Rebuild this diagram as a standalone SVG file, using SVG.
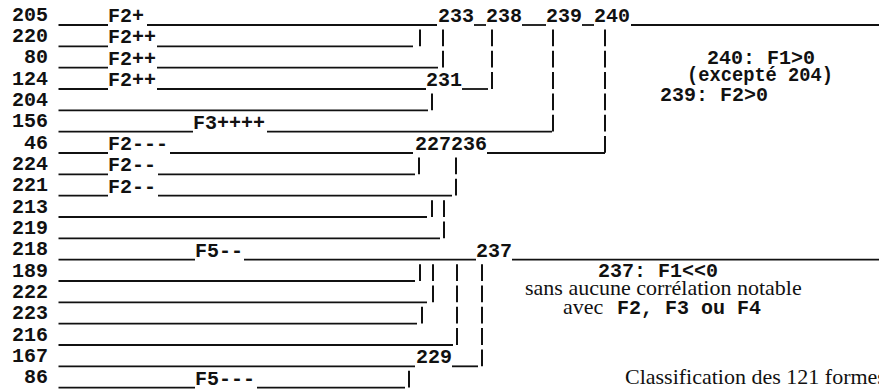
<svg xmlns="http://www.w3.org/2000/svg" width="879" height="389" viewBox="0 0 879 389">
<style>
  .bg { fill: #ffffff; }
  .lab { font-family: "Liberation Mono", "Courier New", monospace; font-size: 20px; font-weight: bold; fill: #111; }
  .row { text-anchor: end; }
  .ser { font-family: "Liberation Serif", "Times New Roman", serif; font-size: 22px; fill: #111; }
  .h { stroke: #111; stroke-width: 1.8; fill: none; }
  .bar { stroke: #111; stroke-width: 2; fill: none; stroke-dasharray: 16.8 4.5; }
</style>
<rect class="bg" x="0" y="0" width="879" height="389"/>

<g id="connectors">
  <!-- row 0: 205 -->
  <line class="h" x1="58.5" y1="25" x2="108" y2="25"/>
  <line class="h" x1="147" y1="25" x2="437" y2="25"/>
  <line class="h" x1="474" y1="25" x2="486" y2="25"/>
  <line class="h" x1="522" y1="25" x2="546" y2="25"/>
  <line class="h" x1="582" y1="25" x2="594" y2="25"/>
  <line class="h" x1="631" y1="25" x2="879" y2="25"/>
  <!-- row 1: 220 -->
  <line class="h" x1="58.5" y1="46.33" x2="108" y2="46.33"/>
  <line class="h" x1="157" y1="46.33" x2="413" y2="46.33"/>
  <!-- row 2: 80 -->
  <line class="h" x1="58.5" y1="67.67" x2="108" y2="67.67"/>
  <line class="h" x1="157" y1="67.67" x2="438" y2="67.67"/>
  <!-- row 3: 124 -->
  <line class="h" x1="58.5" y1="89" x2="108" y2="89"/>
  <line class="h" x1="157" y1="89" x2="426" y2="89"/>
  <line class="h" x1="462" y1="89" x2="488" y2="89"/>
  <!-- row 4: 204 -->
  <line class="h" x1="58.5" y1="110.33" x2="428" y2="110.33"/>
  <!-- row 5: 156 -->
  <line class="h" x1="58.5" y1="131.67" x2="193" y2="131.67"/>
  <line class="h" x1="267" y1="131.67" x2="552" y2="131.67"/>
  <!-- row 6: 46 -->
  <line class="h" x1="58.5" y1="153" x2="108" y2="153"/>
  <line class="h" x1="170" y1="153" x2="413" y2="153"/>
  <line class="h" x1="487" y1="153" x2="605" y2="153"/>
  <!-- row 7: 224 -->
  <line class="h" x1="58.5" y1="174.33" x2="108" y2="174.33"/>
  <line class="h" x1="158" y1="174.33" x2="415" y2="174.33"/>
  <!-- row 8: 221 -->
  <line class="h" x1="58.5" y1="195.67" x2="108" y2="195.67"/>
  <line class="h" x1="158" y1="195.67" x2="452" y2="195.67"/>
  <!-- row 9: 213 -->
  <line class="h" x1="58.5" y1="217" x2="427" y2="217"/>
  <!-- row 10: 219 -->
  <line class="h" x1="58.5" y1="238.33" x2="440" y2="238.33"/>
  <!-- row 11: 218 -->
  <line class="h" x1="58.5" y1="259.67" x2="195" y2="259.67"/>
  <line class="h" x1="244" y1="259.67" x2="476" y2="259.67"/>
  <line class="h" x1="512" y1="259.67" x2="879" y2="259.67"/>
  <!-- row 12: 189 -->
  <line class="h" x1="58.5" y1="281" x2="415" y2="281"/>
  <!-- row 13: 222 -->
  <line class="h" x1="58.5" y1="302.33" x2="427" y2="302.33"/>
  <!-- row 14: 223 -->
  <line class="h" x1="58.5" y1="323.67" x2="417" y2="323.67"/>
  <!-- row 15: 216 -->
  <line class="h" x1="58.5" y1="345" x2="453" y2="345"/>
  <!-- row 16: 167 -->
  <line class="h" x1="58.5" y1="366.33" x2="415" y2="366.33"/>
  <line class="h" x1="452" y1="366.33" x2="478" y2="366.33"/>
  <!-- row 17: 86 -->
  <line class="h" x1="58.5" y1="387.67" x2="195" y2="387.67"/>
  <line class="h" x1="257" y1="387.67" x2="405" y2="387.67"/>

  <!-- vertical joins -->
  <line class="bar" x1="420" y1="29.5" x2="420" y2="46.33"/>
  <line class="bar" x1="443" y1="29.5" x2="443" y2="67.67"/>
  <line class="bar" x1="492" y1="29.5" x2="492" y2="89"/>
  <line class="bar" x1="553" y1="29.5" x2="553" y2="131.67"/>
  <line class="bar" x1="605" y1="29.5" x2="605" y2="153"/>
  <line class="bar" x1="432" y1="93.5" x2="432" y2="110.33"/>
  <line class="bar" x1="419" y1="157.5" x2="419" y2="174.33"/>
  <line class="bar" x1="456" y1="157.5" x2="456" y2="195.67"/>
  <line class="bar" x1="432" y1="200.2" x2="432" y2="217"/>
  <line class="bar" x1="444" y1="200.2" x2="444" y2="238.33"/>
  <line class="bar" x1="420" y1="264.2" x2="420" y2="281"/>
  <line class="bar" x1="433" y1="264.2" x2="433" y2="302.33"/>
  <line class="bar" x1="422" y1="306.8" x2="422" y2="323.67"/>
  <line class="bar" x1="457" y1="264.2" x2="457" y2="345"/>
  <line class="bar" x1="482" y1="264.2" x2="482" y2="366.33"/>
  <line class="bar" x1="409" y1="370.8" x2="409" y2="387.67"/>
</g>

<g id="leaf-205"><text class="lab row" x="48" y="20.7">205</text><text class="lab" x="108" y="22">F2+</text></g>
<g id="leaf-220"><text class="lab row" x="48" y="42">220</text><text class="lab" x="108" y="43.3">F2++</text></g>
<g id="leaf-80"><text class="lab row" x="48" y="63.4">80</text><text class="lab" x="108" y="64.7">F2++</text></g>
<g id="leaf-124"><text class="lab row" x="48" y="84.7">124</text><text class="lab" x="108" y="86">F2++</text></g>
<g id="leaf-204"><text class="lab row" x="48" y="106">204</text></g>
<g id="leaf-156"><text class="lab row" x="48" y="127.4">156</text><text class="lab" x="193" y="128.7">F3++++</text></g>
<g id="leaf-46"><text class="lab row" x="48" y="148.7">46</text><text class="lab" x="108" y="150">F2---</text></g>
<g id="leaf-224"><text class="lab row" x="48" y="170">224</text><text class="lab" x="108" y="171.3">F2--</text></g>
<g id="leaf-221"><text class="lab row" x="48" y="191.4">221</text><text class="lab" x="108" y="192.7">F2--</text></g>
<g id="leaf-213"><text class="lab row" x="48" y="212.7">213</text></g>
<g id="leaf-219"><text class="lab row" x="48" y="234">219</text></g>
<g id="leaf-218"><text class="lab row" x="48" y="255.4">218</text><text class="lab" x="195" y="256.7">F5--</text></g>
<g id="leaf-189"><text class="lab row" x="48" y="276.7">189</text></g>
<g id="leaf-222"><text class="lab row" x="48" y="298">222</text></g>
<g id="leaf-223"><text class="lab row" x="48" y="319.4">223</text></g>
<g id="leaf-216"><text class="lab row" x="48" y="340.7">216</text></g>
<g id="leaf-167"><text class="lab row" x="48" y="362">167</text></g>
<g id="leaf-86"><text class="lab row" x="48" y="383.4">86</text><text class="lab" x="195" y="384.7">F5---</text></g>

<g id="node-233"><text class="lab" x="438" y="22">233</text></g>
<g id="node-238"><text class="lab" x="486" y="22">238</text></g>
<g id="node-239"><text class="lab" x="546" y="22">239</text></g>
<g id="node-240"><text class="lab" x="594" y="22">240</text></g>
<g id="node-231"><text class="lab" x="426" y="86">231</text></g>
<g id="node-227"><text class="lab" x="415" y="150">227</text></g>
<g id="node-236"><text class="lab" x="451" y="150">236</text></g>
<g id="node-237"><text class="lab" x="476" y="256.7">237</text></g>
<g id="node-229"><text class="lab" x="416" y="363.3">229</text></g>

<g id="note-240">
  <text class="lab" x="707" y="64">240: F1&gt;0</text>
  <text class="lab" x="687" y="81" textLength="146" lengthAdjust="spacingAndGlyphs">(excepté 204)</text>
  <text class="lab" x="660" y="101">239: F2&gt;0</text>
</g>
<g id="note-237">
  <text class="lab" x="598" y="277">237: F1&lt;&lt;0</text>
  <text class="ser" x="525" y="295">sans aucune corrélation notable</text>
  <text x="563" y="314"><tspan class="ser">avec</tspan><tspan class="lab" x="617">F2, F3 ou F4</tspan></text>
</g>
<g id="caption">
  <text class="ser" x="625" y="384">Classification des 121 formes</text>
</g>
</svg>
